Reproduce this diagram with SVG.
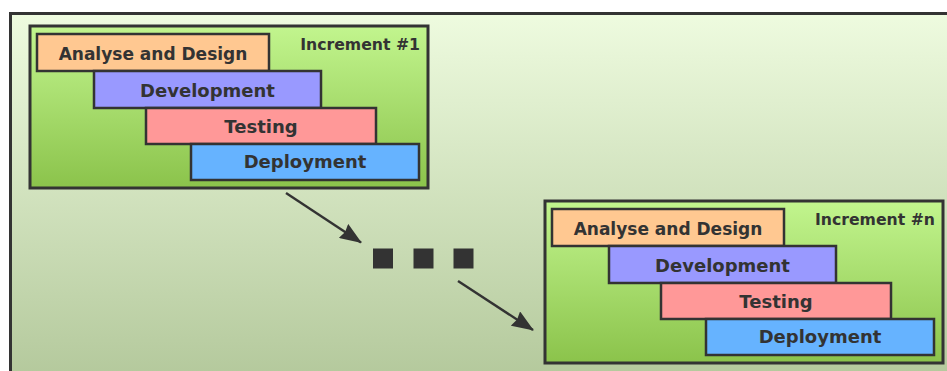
<svg xmlns="http://www.w3.org/2000/svg" width="947" height="371" viewBox="0 0 947 371">
  <style>
    .frame { stroke: #333; stroke-width: 3; }
    .phase { stroke: #333; stroke-width: 2.5; }
    .lbl { font-family: "DejaVu Sans", Verdana, sans-serif; font-weight: bold; fill: #333; text-anchor: middle; font-size: 18px; }
    .lbl-sm { font-size: 17px; }
    .title { font-family: "DejaVu Sans", Verdana, sans-serif; font-weight: bold; fill: #333; text-anchor: end; font-size: 15.7px; }
    .conn { stroke: #333; stroke-width: 2.4; fill: none; }
  </style>
  <defs>
    <linearGradient id="bgGrad" x1="0" y1="0" x2="0" y2="1">
      <stop offset="0" stop-color="#eefbdf"/>
      <stop offset="1" stop-color="#b3c89b"/>
    </linearGradient>
    <linearGradient id="incGrad" x1="0" y1="0" x2="0" y2="1">
      <stop offset="0" stop-color="#c2f58e"/>
      <stop offset="1" stop-color="#8bc34b"/>
    </linearGradient>
    <marker id="arrowHead" viewBox="0 0 22 17" refX="21" refY="8.5" markerWidth="22" markerHeight="17" markerUnits="userSpaceOnUse" orient="auto">
      <path d="M0,0 L22,8.5 L0,17 L2,8.5 z" fill="#333"/>
    </marker>
    <!-- one increment: container plus the four staggered phases -->
    <g id="incrementBody">
      <rect x="30" y="26" width="398" height="162" fill="url(#incGrad)" class="frame"/>
      <rect x="37" y="34" width="232" height="37" fill="#ffc891" class="phase"/>
      <rect x="94" y="71" width="227" height="37" fill="#9999ff" class="phase"/>
      <rect x="146" y="108" width="230" height="36" fill="#ff9898" class="phase"/>
      <rect x="191" y="144" width="228" height="36" fill="#66b3ff" class="phase"/>
      <text class="lbl lbl-sm" x="153" y="59.5">Analyse and Design</text>
      <text class="lbl" x="207.5" y="96.5">Development</text>
      <text class="lbl" x="261" y="132.5">Testing</text>
      <text class="lbl" x="305" y="168">Deployment</text>
    </g>
  </defs>

  <rect x="0" y="0" width="947" height="371" fill="#ffffff"/>
  <rect x="10.5" y="13.5" width="950" height="370" fill="url(#bgGrad)" class="frame"/>

  <g id="increment-1">
    <use href="#incrementBody"/>
    <text class="title" x="420" y="50">Increment #1</text>
  </g>

  <g id="increment-n" transform="translate(515,175)">
    <use href="#incrementBody"/>
    <text class="title" x="420" y="50">Increment #n</text>
  </g>

  <g id="ellipsis" fill="#333">
    <rect x="373" y="248.5" width="20" height="20"/>
    <rect x="413.5" y="248.5" width="20" height="20"/>
    <rect x="453.5" y="248.5" width="20" height="20"/>
  </g>

  <g id="connectors">
    <line class="conn" x1="286" y1="193" x2="361" y2="242.5" marker-end="url(#arrowHead)"/>
    <line class="conn" x1="458" y1="281" x2="533" y2="330" marker-end="url(#arrowHead)"/>
  </g>
</svg>
